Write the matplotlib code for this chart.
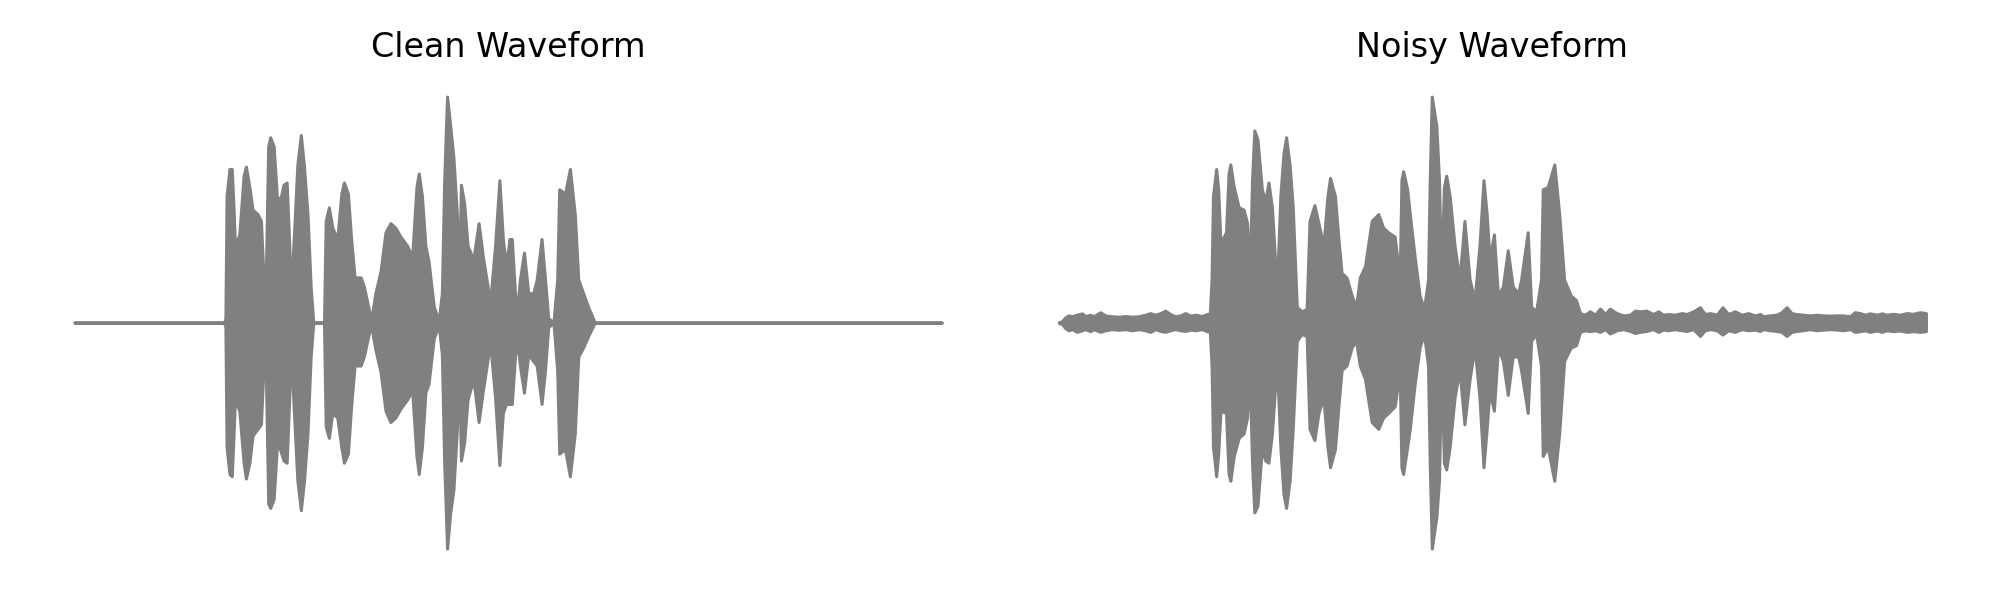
import numpy as np
import matplotlib
matplotlib.use("Agg")
import matplotlib.pyplot as plt

# ---------------- data (envelopes) ----------------
titles = ["Clean Waveform", "Noisy Waveform"]

clean_t = [0.0, 0.518, 0.522, 0.526, 0.536, 0.544, 0.551, 0.555, 0.570, 0.585,
           0.593, 0.605, 0.616, 0.633, 0.645, 0.654, 0.662, 0.670, 0.677, 0.689,
           0.700, 0.711, 0.723, 0.734, 0.743, 0.748, 0.760, 0.771, 0.783, 0.794,
           0.806, 0.817, 0.826, 0.863, 0.869, 0.880, 0.892, 0.909, 0.923, 0.932,
           0.946, 0.957, 0.969, 0.990, 1.001, 1.018, 1.026, 1.041, 1.059, 1.076,
           1.093, 1.110, 1.128, 1.151, 1.168, 1.183, 1.191, 1.202, 1.214, 1.225,
           1.243, 1.260, 1.271, 1.279, 1.289, 1.300, 1.311, 1.323, 1.330, 1.337,
           1.348, 1.360, 1.380, 1.398, 1.413, 1.438, 1.455, 1.470, 1.482, 1.493,
           1.505, 1.513, 1.524, 1.532, 1.541, 1.555, 1.570, 1.587, 1.599, 1.616,
           1.628, 1.639, 1.657, 1.670, 1.677, 1.697, 1.714, 1.731, 1.743, 1.760,
           1.777, 1.800, 3.0]
clean_upper = [0.0, 0.0, 0.02, 0.56, 0.68, 0.68, 0.48, 0.34, 0.39, 0.65,
               0.69, 0.60, 0.50, 0.48, 0.45, 0.19, 0.22, 0.78, 0.82, 0.78,
               0.56, 0.54, 0.61, 0.62, 0.34, 0.12, 0.41, 0.70, 0.83, 0.69,
               0.48, 0.16, 0.0, 0.0, 0.45, 0.51, 0.42, 0.37, 0.57, 0.62,
               0.57, 0.37, 0.20, 0.20, 0.16, 0.06, 0.01, 0.13, 0.23, 0.40,
               0.44, 0.42, 0.38, 0.34, 0.29, 0.60, 0.66, 0.56, 0.34, 0.27,
               0.07, 0.01, 0.13, 0.63, 1.00, 0.87, 0.73, 0.48, 0.16, 0.61,
               0.53, 0.34, 0.28, 0.44, 0.29, 0.09, 0.34, 0.63, 0.37, 0.25,
               0.37, 0.37, 0.13, 0.06, 0.19, 0.31, 0.13, 0.13, 0.19, 0.37,
               0.19, 0.02, 0.0, 0.19, 0.59, 0.57, 0.68, 0.48, 0.19, 0.13,
               0.07, 0.0, 0.0]
clean_lower = [0.0, 0.0, 0.02, 0.55, 0.67, 0.68, 0.47, 0.34, 0.39, 0.62,
               0.69, 0.62, 0.50, 0.47, 0.45, 0.19, 0.22, 0.80, 0.82, 0.78,
               0.55, 0.56, 0.61, 0.62, 0.33, 0.11, 0.42, 0.70, 0.83, 0.70,
               0.49, 0.15, 0.0, 0.0, 0.46, 0.51, 0.40, 0.42, 0.55, 0.62,
               0.58, 0.37, 0.19, 0.19, 0.15, 0.05, 0.01, 0.12, 0.22, 0.39,
               0.44, 0.42, 0.38, 0.34, 0.30, 0.59, 0.67, 0.55, 0.31, 0.27,
               0.07, 0.01, 0.14, 0.62, 1.00, 0.84, 0.74, 0.47, 0.15, 0.61,
               0.53, 0.34, 0.25, 0.44, 0.30, 0.09, 0.33, 0.63, 0.40, 0.36,
               0.36, 0.36, 0.15, 0.08, 0.19, 0.31, 0.14, 0.17, 0.19, 0.36,
               0.21, 0.02, 0.0, 0.21, 0.58, 0.56, 0.68, 0.49, 0.15, 0.11,
               0.06, 0.0, 0.0]

noisy_t = [0.000, 0.010, 0.022, 0.033, 0.045, 0.062, 0.080, 0.091, 0.108, 0.120,
           0.143, 0.160, 0.183, 0.206, 0.230, 0.253, 0.276, 0.299, 0.316, 0.333,
           0.351, 0.368, 0.385, 0.402, 0.420, 0.437, 0.455, 0.472, 0.495, 0.512,
           0.522,
           0.528, 0.533, 0.544, 0.551, 0.559, 0.578, 0.587, 0.593, 0.605, 0.622,
           0.639, 0.651, 0.660, 0.668, 0.676, 0.687, 0.702, 0.714, 0.725, 0.737,
           0.754, 0.766, 0.777, 0.786, 0.798, 0.809, 0.823, 0.840, 0.857, 0.867,
           0.884, 0.898, 0.915, 0.929, 0.938, 0.955, 0.967, 0.978, 0.995, 1.013,
           1.028, 1.041, 1.059, 1.082, 1.105, 1.122, 1.139, 1.162, 1.179, 1.185,
           1.191, 1.205, 1.214, 1.231, 1.248, 1.263, 1.277, 1.283, 1.290, 1.306,
           1.315, 1.323, 1.332, 1.340, 1.352, 1.369, 1.386, 1.403, 1.421, 1.438,
           1.455, 1.469, 1.480, 1.490, 1.505, 1.519, 1.536, 1.553, 1.570, 1.589,
           1.599, 1.622, 1.634, 1.651, 1.668, 1.674, 1.691, 1.714, 1.731, 1.748,
           1.771, 1.789,
           1.803, 1.820, 1.837, 1.855, 1.872, 1.890, 1.906, 1.930, 1.953, 1.976,
           1.993, 2.010, 2.033, 2.056, 2.074, 2.091, 2.108, 2.131, 2.155, 2.172,
           2.195, 2.218, 2.235, 2.253, 2.276, 2.296, 2.316, 2.339, 2.362, 2.385,
           2.408, 2.426, 2.437, 2.460, 2.483, 2.500, 2.518, 2.535, 2.552, 2.575,
           2.598, 2.622, 2.645, 2.668, 2.691, 2.714, 2.737, 2.754, 2.772, 2.789,
           2.806, 2.830, 2.847, 2.864, 2.887, 2.910, 2.933, 2.956, 2.979, 3.000]
noisy_upper = [0.002, 0.006, 0.023, 0.032, 0.028, 0.035, 0.041, 0.029, 0.035, 0.028,
               0.046, 0.032, 0.028, 0.026, 0.029, 0.026, 0.028, 0.035, 0.042, 0.035,
               0.042, 0.053, 0.038, 0.028, 0.032, 0.042, 0.031, 0.035, 0.029, 0.038,
               0.040,
               0.19, 0.56, 0.68, 0.59, 0.35, 0.40, 0.66, 0.70, 0.60, 0.51,
               0.50, 0.44, 0.20, 0.63, 0.85, 0.81, 0.59, 0.54, 0.62, 0.51,
               0.14, 0.56, 0.75, 0.82, 0.70, 0.51, 0.07, 0.05, 0.06, 0.45,
               0.52, 0.44, 0.34, 0.56, 0.64, 0.56, 0.37, 0.22, 0.20, 0.12,
               0.07, 0.20, 0.25, 0.45, 0.48, 0.42, 0.40, 0.38, 0.19, 0.63,
               0.67, 0.59, 0.48, 0.29, 0.12, 0.06, 0.19, 0.63, 1.00, 0.87,
               0.63, 0.19, 0.60, 0.65, 0.56, 0.34, 0.19, 0.45, 0.19, 0.10,
               0.34, 0.63, 0.48, 0.28, 0.39, 0.12, 0.16, 0.32, 0.16, 0.13,
               0.19, 0.40, 0.07, 0.05, 0.19, 0.59, 0.60, 0.70, 0.48, 0.19,
               0.12, 0.10,
               0.042, 0.035, 0.050, 0.035, 0.062, 0.038, 0.062, 0.042, 0.032, 0.035,
               0.053, 0.050, 0.053, 0.038, 0.050, 0.035, 0.038, 0.035, 0.042, 0.038,
               0.050, 0.068, 0.038, 0.042, 0.035, 0.068, 0.038, 0.050, 0.035, 0.042,
               0.032, 0.038, 0.028, 0.032, 0.035, 0.046, 0.068, 0.042, 0.038, 0.035,
               0.032, 0.035, 0.032, 0.031, 0.032, 0.032, 0.028, 0.046, 0.042, 0.035,
               0.041, 0.035, 0.041, 0.035, 0.039, 0.035, 0.042, 0.039, 0.046, 0.042]
noisy_lower = [0.002, 0.006, 0.025, 0.034, 0.029, 0.041, 0.034, 0.029, 0.038, 0.029,
               0.041, 0.034, 0.029, 0.032, 0.029, 0.034, 0.029, 0.034, 0.041, 0.029,
               0.037, 0.041, 0.034, 0.029, 0.034, 0.037, 0.031, 0.034, 0.029, 0.038,
               0.040,
               0.19, 0.55, 0.68, 0.58, 0.39, 0.40, 0.67, 0.70, 0.59, 0.51,
               0.49, 0.42, 0.21, 0.62, 0.84, 0.81, 0.56, 0.61, 0.62, 0.49,
               0.17, 0.55, 0.76, 0.82, 0.70, 0.47, 0.08, 0.05, 0.06, 0.47,
               0.52, 0.40, 0.33, 0.55, 0.64, 0.56, 0.37, 0.21, 0.19, 0.11,
               0.08, 0.19, 0.25, 0.44, 0.47, 0.42, 0.40, 0.37, 0.21, 0.64,
               0.67, 0.55, 0.47, 0.27, 0.11, 0.05, 0.19, 0.62, 1.00, 0.86,
               0.70, 0.19, 0.62, 0.65, 0.55, 0.33, 0.21, 0.45, 0.25, 0.11,
               0.33, 0.64, 0.47, 0.30, 0.39, 0.11, 0.17, 0.32, 0.15, 0.15,
               0.21, 0.40, 0.08, 0.05, 0.19, 0.59, 0.55, 0.70, 0.49, 0.17,
               0.11, 0.10,
               0.041, 0.034, 0.038, 0.034, 0.041, 0.029, 0.048, 0.034, 0.029, 0.037,
               0.046, 0.041, 0.037, 0.029, 0.041, 0.031, 0.034, 0.029, 0.034, 0.037,
               0.029, 0.059, 0.034, 0.029, 0.034, 0.053, 0.034, 0.041, 0.029, 0.034,
               0.031, 0.037, 0.029, 0.034, 0.037, 0.041, 0.059, 0.041, 0.037, 0.034,
               0.029, 0.034, 0.031, 0.029, 0.031, 0.034, 0.029, 0.041, 0.038, 0.034,
               0.041, 0.035, 0.041, 0.034, 0.038, 0.035, 0.041, 0.038, 0.041, 0.038]

# ---------------- figure ----------------
W, H = 2000, 600
fig = plt.figure(figsize=(20, 6), dpi=100)
color = "#808080"

ax_w = 953.7 / W
ax_h = 497.2 / H
ax_y = 28.8 / H
axes = [fig.add_axes([31.2 / W, ax_y, ax_w, ax_h]),
        fig.add_axes([1015.6 / W, ax_y, ax_w, ax_h])]

series = [(clean_t, clean_upper, clean_lower), (noisy_t, noisy_upper, noisy_lower)]
for ax, (t, up, lo), title in zip(axes, series, titles):
    t = np.asarray(t)
    up = np.asarray(up)
    lo = -np.asarray(lo)
    coll = ax.fill_between(t, up, lo, facecolor=color, edgecolor=color, linewidth=2.2)
    coll.set_joinstyle("round")
    coll.set_capstyle("round")
    ax.set_xlim(-0.15, 3.15)
    ax.set_ylim(-1.1, 1.1)
    ax.axis("off")
    ax.set_title(title, fontsize=24, pad=12.4, family="DejaVu Sans")

fig.savefig("out.png", dpi=100, facecolor="white")
